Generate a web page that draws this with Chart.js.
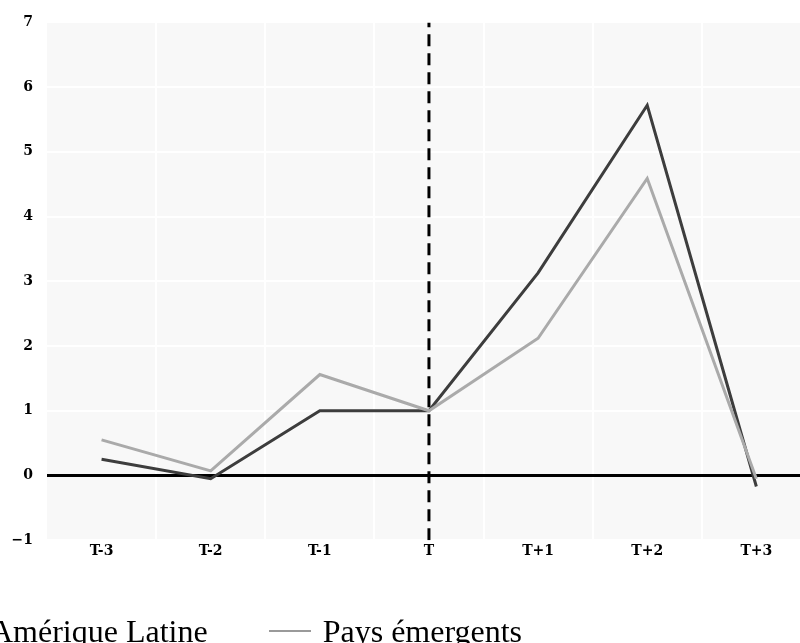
<!DOCTYPE html>
<html>
<head>
<meta charset="utf-8">
<script src="https://cdn.jsdelivr.net/npm/chart.js@4.4.0/dist/chart.umd.min.js"></script>
<style>
  html, body { margin: 0; padding: 0; background: #fff; overflow: hidden; }
  #wrap { position: relative; width: 800px; height: 643px; }
  #legend {
    position: absolute; left: -64px; top: 613px; white-space: nowrap;
    font-family: 'Liberation Serif', 'Times New Roman', serif; font-size: 32px; color: #000;
  }
  #legend span.item { display: inline-block; margin-right: 61px; }
  #legend span.sw { display: inline-block; width: 42px; height: 2px; margin-right: 12px; vertical-align: 10px; }
</style>
</head>
<body>
<div id="wrap">
  <canvas id="c" width="800" height="643"></canvas>
  <div id="legend"></div>
</div>
<script>
(function() {
  'use strict';

  // data
  var categories = ['T-3', 'T-2', 'T-1', 'T', 'T+1', 'T+2', 'T+3'];
  var seriesNames = ['Amérique Latine', 'Pays émergents'];
  var ameriqueLatine = [0.25, -0.05, 1.0, 1.0, 3.13, 5.72, -0.17];
  var paysEmergents = [0.55, 0.07, 1.56, 1.0, 2.12, 4.59, -0.05];
  var yTicks = [-1, 0, 1, 2, 3, 4, 5, 6, 7];
  var crisisIndex = 3; // dashed line at "T"

  var colors = ['#3d3d3d', '#aaaaaa'];
  var tickFont = { family: "'DejaVu Serif', serif", size: 14, weight: 'bold' };

  function toPoints(values) {
    return values.map(function(v, i) { return { x: i, y: v }; });
  }

  /** light plot background */
  var plotBg = {
    id: 'plotBg',
    beforeDraw: function(chart) {
      var a = chart.chartArea, ctx = chart.ctx;
      ctx.save();
      ctx.fillStyle = '#f8f8f8';
      ctx.fillRect(a.left, a.top, a.right - a.left, a.bottom - a.top);
      ctx.restore();
    }
  };

  new Chart(document.getElementById('c'), {
    type: 'line',
    plugins: [plotBg],
    data: {
      datasets: [
        {
          label: seriesNames[1],
          data: toPoints(paysEmergents),
          borderColor: colors[1],
          borderWidth: 3,
          pointRadius: 0,
          tension: 0,
          order: 1
        },
        {
          label: seriesNames[0],
          data: toPoints(ameriqueLatine),
          borderColor: colors[0],
          borderWidth: 3,
          pointRadius: 0,
          tension: 0,
          order: 2
        },
        {
          label: 'T',
          data: [{ x: crisisIndex, y: yTicks[0] }, { x: crisisIndex, y: yTicks[yTicks.length - 1] }],
          borderColor: '#000',
          borderWidth: 3,
          borderDash: [12, 7],
          pointRadius: 0,
          order: 3
        }
      ]
    },
    options: {
      responsive: false,
      animation: false,
      layout: { padding: { top: 18, right: 0, bottom: 80, left: 0 } },
      plugins: {
        legend: { display: false },
        tooltip: { enabled: false }
      },
      scales: {
        x: {
          type: 'linear',
          min: -0.5,
          max: 6.4,
          afterBuildTicks: function(scale) {
            scale.ticks = categories.map(function(c, i) { return { value: i }; });
          },
          ticks: {
            color: '#000',
            font: tickFont,
            padding: 3,
            maxRotation: 0,
            autoSkip: false,
            callback: function(v) { return categories[v]; }
          },
          grid: { display: false, drawTicks: false },
          border: { display: false }
        },
        xg: {
          type: 'linear',
          position: 'bottom',
          min: -0.5,
          max: 6.4,
          afterBuildTicks: function(scale) {
            scale.ticks = categories.slice(1).map(function(c, i) { return { value: i + 0.5 }; });
          },
          ticks: { display: false },
          grid: { color: '#ffffff', lineWidth: 2, drawTicks: false },
          border: { display: false },
          afterFit: function(scale) { scale.height = 0; }
        },
        y: {
          min: yTicks[0],
          max: yTicks[yTicks.length - 1],
          afterBuildTicks: function(scale) {
            scale.ticks = yTicks.map(function(v) { return { value: v }; });
          },
          afterFit: function(scale) { scale.width = 47; },
          ticks: {
            color: '#000',
            font: tickFont,
            padding: 14,
            callback: function(v) { return v < 0 ? '\u2212' + Math.abs(v) : String(v); }
          },
          grid: {
            drawTicks: false,
            color: function(ctx) { return ctx.tick && ctx.tick.value === 0 ? '#000' : '#ffffff'; },
            lineWidth: function(ctx) { return ctx.tick && ctx.tick.value === 0 ? 3 : 2; }
          },
          border: { display: false }
        }
      }
    }
  });

  // legend, as in the reference (first entry runs off the left edge)
  var legend = document.getElementById('legend');
  var legendColors = [colors[0], '#9a9a9a'];
  seriesNames.forEach(function(name, i) {
    var item = document.createElement('span');
    item.className = 'item';
    var sw = document.createElement('span');
    sw.className = 'sw';
    sw.style.background = legendColors[i];
    item.appendChild(sw);
    item.appendChild(document.createTextNode(name));
    legend.appendChild(item);
  });
})();
</script>
</body>
</html>
